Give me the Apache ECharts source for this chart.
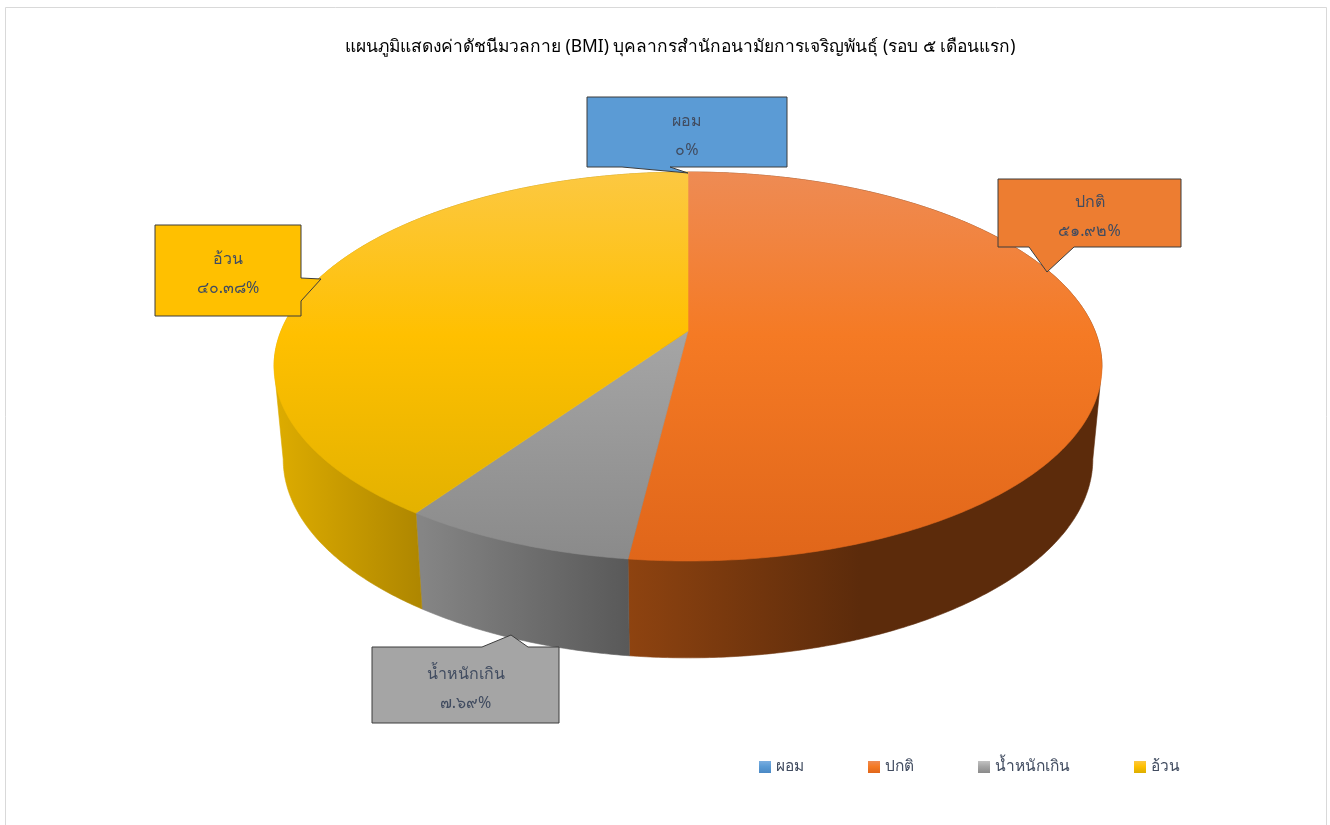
<!DOCTYPE html>
<html lang="th">
<head>
<meta charset="utf-8">
<title>BMI</title>
<style>html,body{margin:0;background:#fff}#chart{width:1330px;height:825px}</style>
</head>
<body>
<div id="chart"></div>
<script src="https://cdn.jsdelivr.net/npm/echarts@6/dist/echarts.min.js"></script>
<script>
// BMI categories and their share of staff, in percent
var categories = ['ผอม', 'ปกติ', 'น้ำหนักเกิน', 'อ้วน'];
var shares = [0, 51.92, 7.69, 40.38];
var thaiDigits = ['๐', '๑', '๒', '๓', '๔', '๕', '๖', '๗', '๘', '๙'];
var chartTitle = 'แผนภูมิแสดงค่าดัชนีมวลกาย (BMI) บุคลากรสำนักอนามัยการเจริญพันธุ์ (รอบ ๕ เดือนแรก)';

var FONT = '"Noto Sans", sans-serif';
var TEXT_COLOR = '#414c60';

// Projection of the pie's two circular faces onto the page (a perspective tilt)
var topFace = { cx: 688, cy: 331, a: 407, b: 188, k: 0.1825 };
var baseFace = { cx: 688, cy: 423, a: 398, b: 192, k: 0.1825 };

// Angles where the rim meets the outline of the pie: only the rim between them faces the viewer
var rimFrom = 180 - Math.acos(topFace.k) * 180 / Math.PI;
var rimTo = 360 - rimFrom;

// Fill ramps per category: [upper, middle, lower] for the top face, [from, to] for the rim
var topRamps = [
  ['#7aaee0', '#5b9bd5', '#4a88c4'],
  ['#ee8b54', '#f57a24', '#e0661a'],
  ['#c2c2c2', '#a5a5a5', '#8a8a8a'],
  ['#fcc842', '#ffc000', '#dcae00']
];
var rimRamps = [
  { x0: 0, x1: 1, stops: ['#3a6a96', '#3a6a96'] },
  { x0: 628, x1: 860, stops: ['#8e4310', '#5c2b0b'] },
  { x0: 422, x1: 628, stops: ['#858585', '#595959'] },
  { x0: 280, x1: 422, stops: ['#dcab00', '#ae8600'] }
];
var boxFills = ['#5b9bd5', '#ed7d31', '#a5a5a5', '#ffc000'];

// Callout boxes: rectangle, pointer base and pointer tip
var callouts = [
  { x: 587, y: 97, w: 200, h: 70, base: [[670, 167], [622, 167]], tip: [688, 173] },
  { x: 998, y: 179, w: 183, h: 68, base: [[1074, 247], [1029, 247]], tip: [1047, 272] },
  { x: 372, y: 647, w: 187, h: 76, base: [[482, 647], [528, 647]], tip: [511, 635] },
  { x: 155, y: 225, w: 146, h: 91, base: [[301, 278], [301, 301]], tip: [321, 279] }
];

function project(face, deg) {
  var t = deg * Math.PI / 180;
  var X = Math.sin(t), Y = Math.cos(t), w = 1 + face.k * Y;
  return [face.cx + face.a * X / w, face.cy - face.b * Y / w];
}

function arc(face, from, to) {
  var pts = [], n = Math.max(1, Math.ceil(Math.abs(to - from) * 2));
  for (var i = 0; i <= n; i++) pts.push(project(face, from + (to - from) * i / n));
  return pts;
}

// Outline of a slice's rim: the base arc on the side facing the viewer, the top arc elsewhere.
// The chord that closes it lies under the top face.
function rimOutline(start, end) {
  var vs = Math.max(start, rimFrom), ve = Math.min(end, rimTo);
  return arc(topFace, start, vs).concat(arc(baseFace, vs, ve), arc(topFace, ve, end));
}

function toThai(value) {
  return String(value).replace(/\d/g, function (d) { return thaiDigits[+d]; }) + '%';
}

function calloutOutline(c, idx) {
  var r = c.x + c.w, b = c.y + c.h;
  if (idx === 3) return [[c.x, c.y], [r, c.y], c.base[0], c.tip, c.base[1], [r, b], [c.x, b]];
  if (idx === 2) return [[c.x, c.y], c.base[0], c.tip, c.base[1], [r, c.y], [r, b], [c.x, b]];
  return [[c.x, c.y], [r, c.y], [r, b], c.base[0], c.tip, c.base[1], [c.x, b]];
}

function renderSlice(idx, params, api) {
  var value = api.value(0);
  var before = shares.slice(0, idx).reduce(function (s, v) { return s + v; }, 0);
  var total = shares.reduce(function (s, v) { return s + v; }, 0);
  var start = before / total * 360, end = (before + value) / total * 360;
  var children = [];

  if (value > 0) {
    var rim = rimRamps[idx];
    var rimFill = new echarts.graphic.LinearGradient(rim.x0, 0, rim.x1, 0, [
      { offset: 0, color: rim.stops[0] }, { offset: 1, color: rim.stops[1] }
    ], true);
    children.push({
      type: 'polygon', z2: 1,
      shape: { points: rimOutline(start, end) },
      // a hairline of the same fill closes the antialiasing seam between neighbours
      style: { fill: rimFill, stroke: rimFill, lineWidth: 0.6 }
    });
    var ramp = topRamps[idx];
    var topFill = new echarts.graphic.LinearGradient(0, 172, 0, 561, [
      { offset: 0, color: ramp[0] }, { offset: 0.42, color: ramp[1] }, { offset: 1, color: ramp[2] }
    ], true);
    children.push({
      type: 'polygon', z2: 2,
      shape: { points: [project(topFace, start)].concat(arc(topFace, start, end), [[topFace.cx, topFace.cy]]) },
      style: { fill: topFill, stroke: topFill, lineWidth: 0.6 }
    });
  }

  var c = callouts[idx];
  children.push({
    type: 'polygon', z2: 3,
    shape: { points: calloutOutline(c, idx) },
    style: { fill: boxFills[idx], stroke: '#3d3d3d', lineWidth: 1 }
  });
  children.push({
    type: 'text', z2: 4,
    x: c.x + c.w / 2, y: c.y + c.h / 2 + 3.5,
    style: {
      text: categories[idx] + '\n' + toThai(value),
      align: 'center', verticalAlign: 'middle',
      font: '16px ' + FONT, lineHeight: 29, fill: TEXT_COLOR
    }
  });
  return { type: 'group', children: children };
}

function legendFill(idx) {
  var ramp = topRamps[idx];
  return new echarts.graphic.LinearGradient(0, 0, 0, 1, [
    { offset: 0, color: ramp[0] }, { offset: 0.45, color: ramp[1] }, { offset: 1, color: ramp[2] }
  ]);
}

var chart = echarts.init(document.getElementById('chart'), null, { renderer: 'canvas' });
chart.setOption({
  animation: false,
  backgroundColor: '#fff',
  title: {
    text: chartTitle, left: 345, top: 39, padding: 0,
    textStyle: { fontFamily: FONT, fontSize: 17.4, fontWeight: 'normal', color: '#000' }
  },
  legend: {
    right: 150, top: 759, icon: 'rect', itemWidth: 12, itemHeight: 12, itemGap: 64, padding: 0,
    textStyle: { fontFamily: FONT, fontSize: 15.5, color: TEXT_COLOR },
    data: categories.map(function (name, i) {
      return { name: name, itemStyle: { color: legendFill(i) } };
    })
  },
  graphic: [{
    type: 'rect', silent: true, z: -1,
    shape: { x: 5.5, y: 7.5, width: 1321, height: 830 },
    style: { fill: '#fff', stroke: '#d9d9d9', lineWidth: 1 }
  }],
  series: categories.map(function (name, i) {
    return {
      type: 'custom', name: name, coordinateSystem: 'none', silent: true,
      data: [[shares[i]]],
      renderItem: function (params, api) { return renderSlice(i, params, api); }
    };
  })
});
</script>
</body>
</html>
